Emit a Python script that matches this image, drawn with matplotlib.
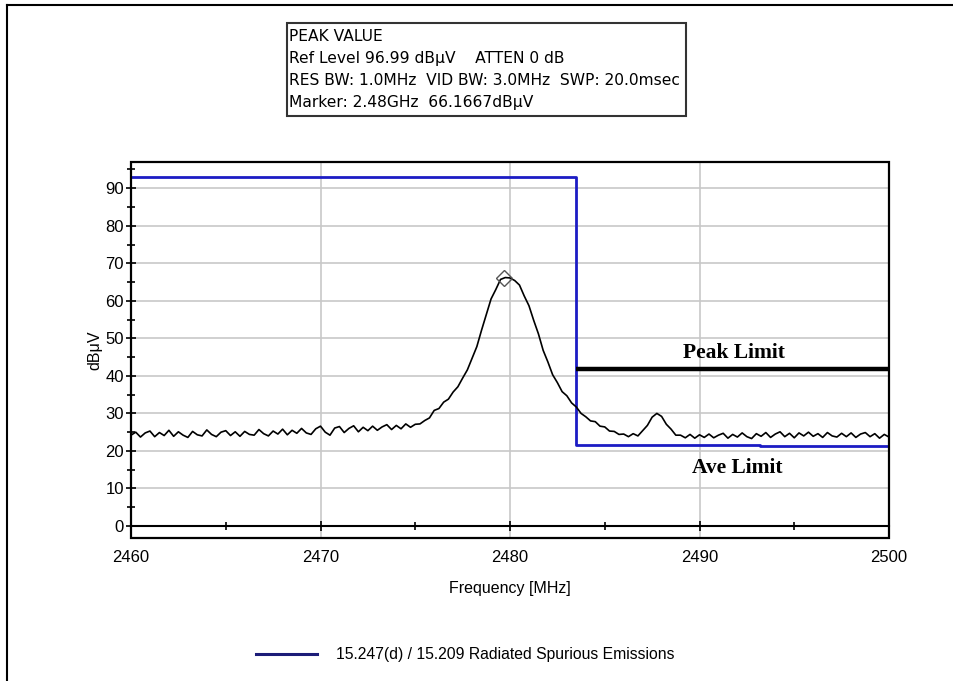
import numpy as np
import matplotlib.pyplot as plt
from matplotlib.patches import Rectangle
from matplotlib.lines import Line2D
from matplotlib.ticker import MultipleLocator

# measured trace, 0.25 MHz steps starting at 2460 MHz (one row per MHz)
trace_start = 2460.0
trace_step = 0.25
trace_level = [
    24.2, 25.0, 23.7, 24.8,  # 2460
    25.3, 23.8, 24.9, 24.1,
    25.5, 23.9, 25.1, 24.2,
    23.6, 25.2, 24.3, 24.0,
    25.6, 24.4, 23.8, 25.0,
    25.4, 24.1, 25.1, 23.9,  # 2465
    25.2, 24.4, 24.2, 25.7,
    24.6, 24.0, 25.3, 24.5,
    25.8, 24.3, 25.5, 24.7,
    26.0, 24.8, 24.4, 25.9,
    26.6, 25.0, 24.2, 26.1,  # 2470
    26.5, 24.9, 26.0, 26.7,
    25.1, 26.3, 25.4, 26.6,
    25.5, 26.4, 27.0, 25.7,
    26.8, 25.9, 27.2, 26.3,
    27.1, 27.2, 28.1, 28.8,  # 2475
    30.8, 31.3, 33.0, 33.8,
    35.7, 37.1, 39.4, 41.6,
    44.7, 47.8, 52.2, 56.3,
    60.5, 63.0, 65.7, 66.2,
    66.1, 65.4, 64.2, 61.3,  # 2480
    58.7, 54.8, 51.2, 46.8,
    43.7, 40.3, 38.2, 35.8,
    34.7, 32.8, 31.7, 30.0,
    29.1, 28.0, 27.8, 26.6,
    26.4, 25.3, 25.2, 24.4,  # 2485
    24.5, 23.8, 24.6, 24.0,
    25.4, 26.8, 29.0, 30.0,
    29.2, 27.1, 25.8, 24.2,
    24.2, 23.5, 24.4, 23.4,
    24.3, 23.6, 24.5, 23.5,  # 2490
    24.2, 24.7, 23.4, 24.4,
    23.7, 24.8, 23.8, 23.3,
    24.6, 23.9, 24.9, 23.6,
    24.5, 25.1, 23.8, 24.7,
    23.5, 24.8, 24.0, 25.0,  # 2495
    23.9, 24.6, 23.6, 24.9,
    24.0, 23.7, 24.7, 23.8,
    24.8, 23.6, 24.5, 24.9,
    23.8, 24.6, 23.4, 24.4,
    23.7,                    # 2500
]

# 15.247(d) / 15.209 limit (blue)
limit_freq = [2460, 2483.5, 2483.5, 2493.2, 2493.2, 2500]
limit_level = [93.0, 93.0, 21.6, 21.6, 21.2, 21.2]

# peak limit (black)
peak_freq = [2483.5, 2500]
peak_level = [41.9, 41.9]

marker_freq = 2479.7
marker_level = 66.1667

info_lines = [
    'PEAK VALUE',
    'Ref Level 96.99 dB\u03bcV    ATTEN 0 dB',
    'RES BW: 1.0MHz  VID BW: 3.0MHz  SWP: 20.0msec',
    'Marker: 2.48GHz  66.1667dB\u03bcV',
]
legend_label = '15.247(d) / 15.209 Radiated Spurious Emissions'

plt.rcParams['font.family'] = ['Liberation Sans', 'DejaVu Sans']

W, H = 954, 681
fig = plt.figure(figsize=(W / 100, H / 100), dpi=100)

def fx(px):
    return px / W

def fy(py):
    return 1 - py / H

ax = fig.add_axes([fx(131), fy(538), fx(889) - fx(131), fy(162) - fy(538)])

freq = trace_start + trace_step * np.arange(len(trace_level))
ax.plot(freq, trace_level, color='black', lw=1.2, zorder=4)
ax.plot(limit_freq, limit_level, color='#1c1cc4', lw=2.0, zorder=3)
ax.plot(peak_freq, peak_level, color='black', lw=3.2, zorder=3, clip_on=False,
        solid_capstyle='butt')
ax.plot([marker_freq], [marker_level], marker='D', ms=8, mfc='none',
        mec='#555555', mew=1.0, zorder=5)

ax.text(2491.8, 46, 'Peak Limit', family='Liberation Serif', weight='bold',
        fontsize=15.5, ha='center', va='center')
ax.text(2492.0, 15.4, 'Ave Limit', family='Liberation Serif', weight='bold',
        fontsize=15.5, ha='center', va='center')

ax.set_xlim(2460, 2500)
ax.set_ylim(-3.2, 96.99)
ax.xaxis.set_major_locator(MultipleLocator(10))
ax.xaxis.set_minor_locator(MultipleLocator(5))
ax.yaxis.set_major_locator(MultipleLocator(10))
ax.yaxis.set_minor_locator(MultipleLocator(5))
ax.set_yticks(np.arange(0, 91, 10))

ax.grid(True, which='major', color='#c8c8c8', lw=1.2)
ax.set_axisbelow(True)

# x axis drawn on the 0 dB line, frame drawn separately
ax.spines['bottom'].set_position(('data', 0))
ax.spines['bottom'].set_linewidth(1.5)
for s in ['top', 'right', 'left']:
    ax.spines[s].set_visible(False)
ax.add_patch(Rectangle((0, 0), 1, 1, transform=ax.transAxes, fill=False,
                       ec='black', lw=1.6, clip_on=False, zorder=6))

ax.tick_params(axis='both', which='major', direction='inout', length=7,
               width=1.2, labelsize=12)
ax.tick_params(axis='both', which='minor', direction='inout', length=6,
               width=1.2)
ax.tick_params(axis='x', which='major', pad=14)
ax.tick_params(axis='y', which='major', pad=1.5)

ax.set_xlabel('Frequency [MHz]', fontsize=11.5, labelpad=11)
ax.set_ylabel('dB\u03bcV', fontsize=11.5, labelpad=2)

# info box
fig.add_artist(Rectangle((fx(287), fy(116)), fx(686) - fx(287), fy(23) - fy(116),
                         transform=fig.transFigure, fill=False, ec='#333333', lw=1.5))
for i, line in enumerate(info_lines):
    fig.text(fx(289), fy(36.5 + 22 * i), line, fontsize=11.2,
             family=['DejaVu Sans'], ha='left', va='center')

# outer frame edges
fig.add_artist(Line2D([fx(7), fx(7)], [fy(5), 0], transform=fig.transFigure,
                      color='black', lw=1.5))
fig.add_artist(Line2D([fx(7), 1], [fy(5), fy(5)], transform=fig.transFigure,
                      color='black', lw=1.5))

handle = Line2D([], [], color='#1c1c78', lw=2.2)
fig.legend([handle], [legend_label], loc='center', bbox_to_anchor=(fx(465), fy(655)),
           frameon=False, fontsize=11.3, handlelength=3.9, handletextpad=1.2)

fig.savefig('out.png', dpi=100)
